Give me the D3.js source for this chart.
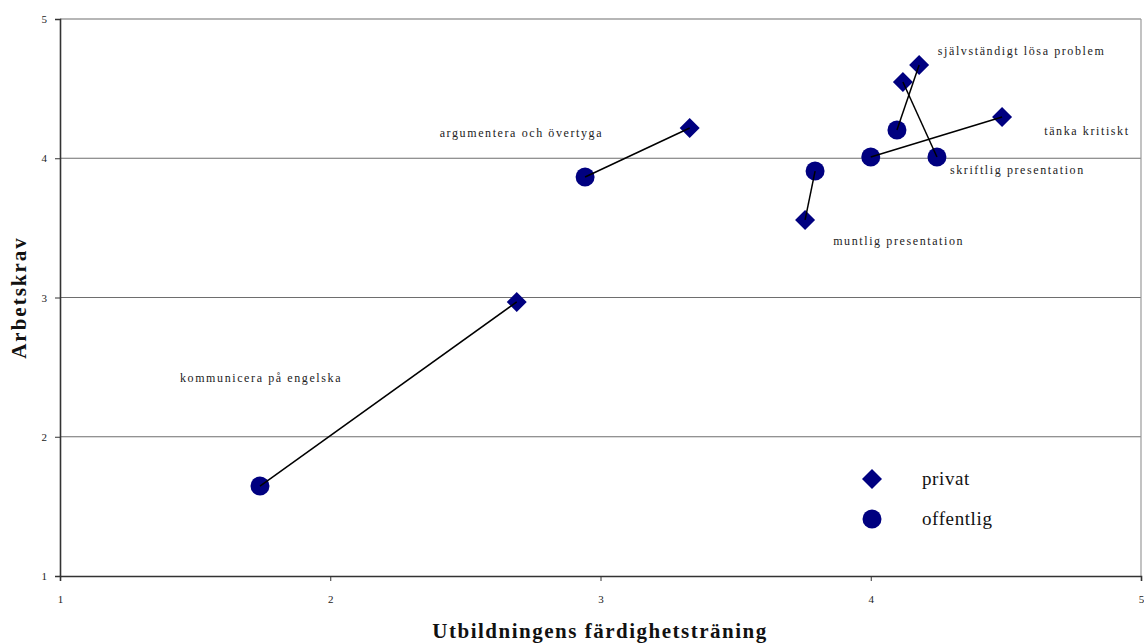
<!DOCTYPE html>
<html><head><meta charset="utf-8">
<script src="https://cdn.jsdelivr.net/npm/d3@7"></script>
<style>body{margin:0;background:#fff}svg{display:block}text{font-family:"Liberation Serif","Times New Roman",serif}</style>
</head><body><svg id="c" width="1144" height="643"></svg>
<script>
const skills = ["kommunicera på engelska","argumentera och övertyga","muntlig presentation","tänka kritiskt","självständigt lösa problem","skriftlig presentation"];
const privatX = [2.69, 3.33, 3.757, 4.486, 4.179, 4.119];
const privatY = [2.968, 4.217, 3.557, 4.296, 4.670, 4.548];
const offentligX = [1.74, 2.943, 3.794, 4.0, 4.097, 4.245];
const offentligY = [1.646, 3.865, 3.908, 4.009, 4.203, 4.009];
const labelX = [1.444, 2.405, 3.861, 4.642, 4.248, 4.293];
const labelY = [2.393, 4.152, 3.376, 4.167, 4.742, 3.888];
const xTicks = [1, 2, 3, 4, 5];
const yTicks = [1, 2, 3, 4, 5];
const seriesNames = ["privat", "offentlig"];

const svg = d3.select("#c");
const L = 60, R = 1141, T = 19, B = 576;
const x = d3.scaleLinear().domain([1, 5]).range([L, R]);
const y = d3.scaleLinear().domain([1, 5]).range([B, T]);
const navy = "#000080";

// gridlines
svg.append("g").selectAll("line").data(yTicks.filter(v => v > 1)).join("line")
  .attr("x1", L).attr("x2", R).attr("y1", d => y(d)).attr("y2", d => y(d))
  .attr("stroke", "#6e6e6e").attr("stroke-width", 1.2);
// right border
svg.append("line").attr("x1", R).attr("x2", R).attr("y1", T).attr("y2", B)
  .attr("stroke", "#9a9a9a").attr("stroke-width", 1.2);

// axes
const xAxis = d3.axisBottom(x).tickValues(xTicks).tickSize(5).tickPadding(14).tickFormat(d3.format("d"));
const gx = svg.append("g").attr("transform", `translate(0,${B})`).call(xAxis);
const yAxis = d3.axisLeft(y).tickValues(yTicks).tickSize(5).tickPadding(8).tickFormat(d3.format("d"));
const gy = svg.append("g").attr("transform", `translate(${L},0)`).call(yAxis);
[gx, gy].forEach(g => {
  g.select(".domain").attr("stroke", "#333").attr("stroke-width", 1.6);
  g.selectAll(".tick line").attr("stroke", "#333");
  g.selectAll(".tick text").attr("font-family", "Liberation Serif").attr("font-size", 11).attr("fill", "#222");
});

const pairs = skills.map((s, i) => ({s, px: privatX[i], py: privatY[i], ox: offentligX[i], oy: offentligY[i], lx: labelX[i], ly: labelY[i]}));

// markers
const diamond = d3.symbol().type(d3.symbolSquare).size(200);
svg.append("g").selectAll("path").data(pairs).join("path")
  .attr("d", diamond)
  .attr("transform", d => `translate(${x(d.px)},${y(d.py)}) rotate(45)`)
  .attr("fill", navy);
svg.append("g").selectAll("circle").data(pairs).join("circle")
  .attr("cx", d => x(d.ox)).attr("cy", d => y(d.oy)).attr("r", 9.5)
  .attr("fill", navy);
// connecting lines
svg.append("g").selectAll("line").data(pairs).join("line")
  .attr("x1", d => x(d.px)).attr("y1", d => y(d.py))
  .attr("x2", d => x(d.ox)).attr("y2", d => y(d.oy))
  .attr("stroke", "#000").attr("stroke-width", 1.5);

// labels
svg.append("g").selectAll("text").data(pairs).join("text")
  .attr("x", d => x(d.lx)).attr("y", d => y(d.ly))
  .attr("font-size", 12).attr("letter-spacing", 1.6).attr("fill", "#222")
  .text(d => d.s);

// legend
const lg = svg.append("g");
const legY = [479, 519];
lg.append("path").attr("d", diamond).attr("transform", `translate(872,${legY[0]}) rotate(45)`).attr("fill", navy);
lg.append("circle").attr("cx", 872).attr("cy", legY[1]).attr("r", 9.5).attr("fill", navy);
lg.selectAll("text").data(seriesNames).join("text")
  .attr("x", 922).attr("y", (d, i) => legY[i] + 6)
  .attr("font-size", 19).attr("letter-spacing", 0.6).attr("fill", "#111")
  .text(d => d);

// axis titles
svg.append("text").attr("x", 600).attr("y", 638).attr("text-anchor", "middle")
  .attr("font-size", 21).attr("font-weight", "bold").attr("letter-spacing", 1.5).attr("fill", "#111")
  .text("Utbildningens färdighetsträning");
svg.append("text").attr("transform", `translate(26,${(T + B) / 2}) rotate(-90)`).attr("text-anchor", "middle")
  .attr("font-size", 21).attr("font-weight", "bold").attr("letter-spacing", 2).attr("fill", "#111")
  .text("Arbetskrav");
</script></body></html>
